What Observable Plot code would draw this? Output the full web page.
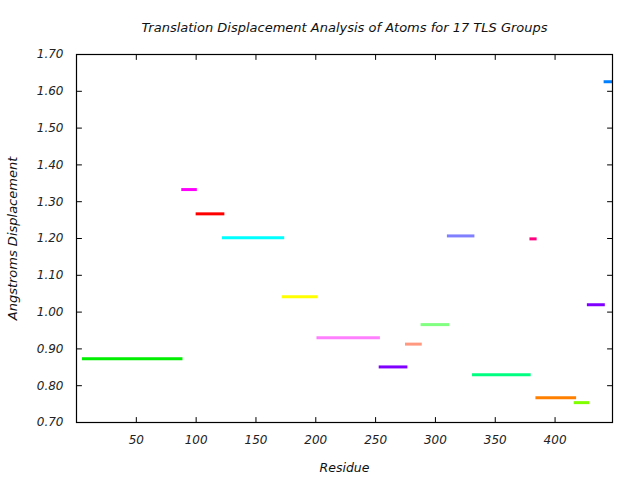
<!DOCTYPE html>
<html>
<head>
<meta charset="utf-8">
<script src="https://cdn.jsdelivr.net/npm/d3@7"></script>
<script src="https://cdn.jsdelivr.net/npm/@observablehq/plot@0.6"></script>
<style>
  html, body { margin: 0; padding: 0; background: #fff; }
</style>
</head>
<body>
<div id="chart"></div>
<script>
const groupStart = [5, 88, 100, 122, 172, 201, 253, 275, 288, 310, 331, 379, 384, 416, 427, 441];
const groupEnd   = [89, 101, 124, 174, 202, 254, 277, 289, 312, 333, 380, 385, 418, 429, 442, 448];
const displacement = [0.873, 1.333, 1.267, 1.202, 1.042, 0.930, 0.851, 0.913, 0.966, 1.207, 0.830, 1.199, 0.767, 0.754, 1.020, 1.626];
const groupColors = ["#00ee00", "#ff00ff", "#ff0000", "#00ffff", "#ffff00", "#ff80ff", "#8000ff", "#ff9980",
                     "#80ff80", "#8080ff", "#00ff80", "#ff0080", "#ff8000", "#80ff00", "#8000ff", "#0080ff"];
const xTicks = [50, 100, 150, 200, 250, 300, 350, 400];
const yTicks = [0.70, 0.80, 0.90, 1.00, 1.10, 1.20, 1.30, 1.40, 1.50, 1.60, 1.70];
const titleText = "Translation Displacement Analysis of Atoms for 17 TLS Groups";
const xLabel = "Residue";
const yLabel = "Angstroms Displacement";

const groups = groupStart.map((s, i) => ({start: s, end: groupEnd[i], value: displacement[i], color: groupColors[i]}));

const tickShape = {draw(context, l) { context.moveTo(0, 0); context.lineTo(0, -l); }};
const tickOpts = {length: 5, anchor: "start", shape: tickShape, stroke: "#000", strokeWidth: 1};
const labelOpts = {fill: "#111", textAnchor: "middle", lineAnchor: "middle"};

const chart = Plot.plot({
  width: 640,
  height: 480,
  marginLeft: 76,
  marginRight: 28,
  marginTop: 54,
  marginBottom: 58,
  style: {fontSize: "12px", fontStyle: "italic", fontFamily: "DejaVu Sans, sans-serif"},
  x: {domain: [0, 448]},
  y: {domain: [0.70, 1.70]},
  marks: [
    Plot.ruleY(groups, {x1: "start", x2: "end", y: "value", stroke: "color", strokeWidth: 3}),
    Plot.frame({stroke: "#000", strokeWidth: 1.2}),
    Plot.vector(xTicks, {x: d => d, frameAnchor: "bottom", rotate: 0, ...tickOpts}),
    Plot.vector(xTicks, {x: d => d, frameAnchor: "top", rotate: 180, ...tickOpts}),
    Plot.vector(yTicks, {y: d => d, frameAnchor: "left", rotate: 90, ...tickOpts}),
    Plot.vector(yTicks, {y: d => d, frameAnchor: "right", rotate: -90, ...tickOpts}),
    Plot.axisX(xTicks, {tickSize: 0, tickPadding: 13, label: null, fontSize: 12, fill: "#222"}),
    Plot.axisY(yTicks, {tickSize: 0, tickPadding: 13, tickFormat: ".2f", label: null, fontSize: 12, fill: "#222"}),
    Plot.text([titleText], {frameAnchor: "top", dy: -26.5, fontSize: 13, ...labelOpts}),
    Plot.text([xLabel], {frameAnchor: "bottom", dy: 45, fontSize: 12.5, ...labelOpts}),
    Plot.text([yLabel], {frameAnchor: "left", dx: -63.5, rotate: -90, fontSize: 13, ...labelOpts})
  ]
});
document.getElementById("chart").appendChild(chart);
</script>
</body>
</html>
